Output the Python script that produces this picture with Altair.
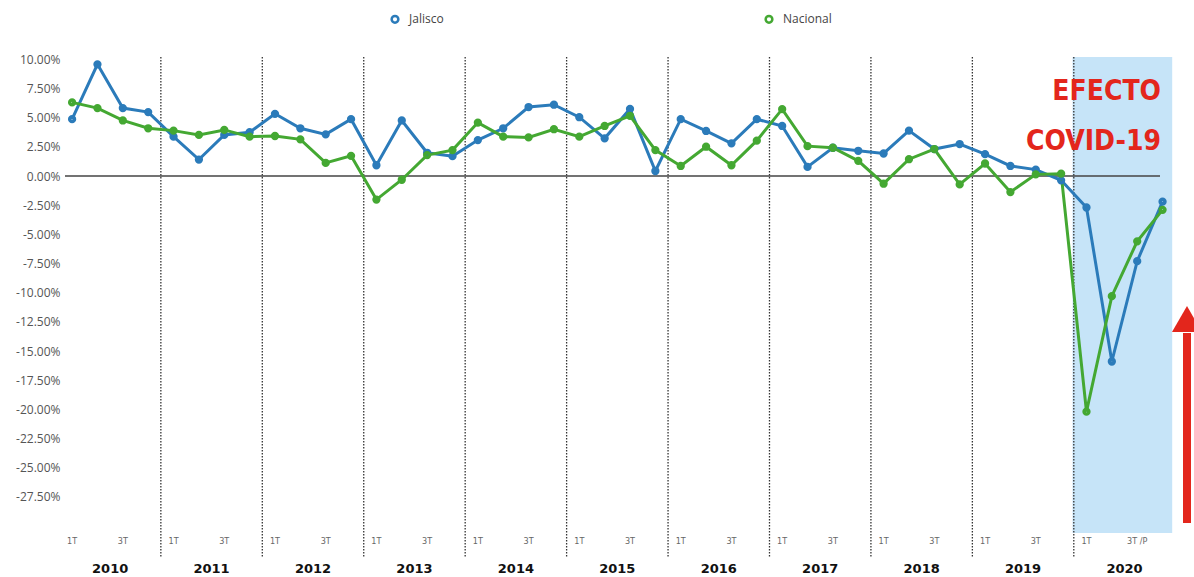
import altair as alt
import pandas as pd

# Quarterly GDP growth (% annual), 1T 2010 .. 4T 2020
years = list(range(2010, 2021))
quarter_labels = ["1T", "3T"]
series_names = ["Jalisco", "Nacional"]

jalisco = [
    4.87, 9.57, 5.82, 5.48,
    3.37, 1.41, 3.52, 3.75,
    5.33, 4.09, 3.57, 4.87,
    0.92, 4.76, 1.99, 1.70,
    3.08, 4.09, 5.91, 6.11,
    5.04, 3.23, 5.75, 0.43,
    4.87, 3.86, 2.80, 4.87,
    4.29, 0.78, 2.42, 2.16,
    1.93, 3.89, 2.31, 2.74,
    1.87, 0.86, 0.55, -0.37,
    -2.70, -15.90, -7.30, -2.20,
]
nacional = [
    6.31, 5.82, 4.76, 4.09,
    3.89, 3.52, 3.95, 3.37,
    3.43, 3.14, 1.12, 1.73,
    -2.02, -0.32, 1.79, 2.22,
    4.58, 3.37, 3.31, 4.01,
    3.37, 4.29, 5.16, 2.22,
    0.86, 2.51, 0.92, 3.03,
    5.73, 2.56, 2.42, 1.30,
    -0.66, 1.44, 2.31, -0.72,
    1.07, -1.38, 0.14, 0.20,
    -20.20, -10.30, -5.60, -2.90,
]
y_ticks = [10 - 2.5 * k for k in range(16)]

BLUE = "#2b7bba"
GREEN = "#44a832"
RED = "#e3261c"
W, H = 1111, 476

n = len(jalisco)
df = pd.DataFrame(
    [{"t": i, "serie": "Jalisco", "valor": v} for i, v in enumerate(jalisco)]
    + [{"t": i, "serie": "Nacional", "valor": v} for i, v in enumerate(nacional)]
)

x_scale = alt.Scale(domain=[-0.28, 43.53], nice=False, zero=False)
y_scale = alt.Scale(domain=[-30.6, 10.2], nice=False, zero=False)
y_axis = alt.Axis(
    values=y_ticks,
    labelExpr="replace(format(datum.value, '.2f'), '\u2212', '-') + '%'",
    domain=False,
    ticks=False,
    grid=False,
    labelOverlap=False,
    labelFontSize=12,
    labelFont="Open Sans",
    labelColor="#555",
    labelPadding=5,
)
legend = alt.Legend(
    title=None,
    orient="none",
    legendX=324,
    legendY=-44,
    direction="horizontal",
    symbolType="circle",
    symbolSize=45,
    symbolStrokeWidth=2.5,
    symbolFillColor="white",
    labelFontSize=12,
    labelFont="Open Sans",
    labelColor="#444",
    labelOffset=8,
    columnPadding=316,
    padding=0,
)
X = lambda f: alt.X(f, type="quantitative", scale=x_scale, axis=None)
Y = lambda f: alt.Y(f, type="quantitative", scale=y_scale, axis=y_axis, title=None)
C = alt.Color("serie:N", scale=alt.Scale(domain=series_names, range=[BLUE, GREEN]), legend=legend)

# light-blue band over 2020
band_df = pd.DataFrame({"a": [4 * (len(years) - 1) - 0.55], "b": [n - 0.62]})
band = alt.Chart(band_df).mark_rect(color="#c6e4f8").encode(
    x=X("a"), x2="b", y=alt.value(0), y2=alt.value(H)
)

# dotted separators between years
sep_df = pd.DataFrame({"t": [4 * k + 3.5 for k in range(len(years) - 1)]})
seps = alt.Chart(sep_df).mark_rule(
    color="#333", strokeWidth=1.3, strokeDash=[1.5, 1.5]
).encode(x=X("t"), y=alt.value(0), y2=alt.value(501))

# zero reference line
zero_df = pd.DataFrame({"a": [-0.28], "b": [n - 1.1], "valor": [0.0]})
zero = alt.Chart(zero_df).mark_rule(color="#444", strokeWidth=1.6).encode(
    x=X("a"), x2="b", y=Y("valor")
)

lines = alt.Chart(df).mark_line(strokeWidth=3).encode(
    x=X("t"), y=Y("valor"), color=C
)

dots = alt.Chart(df).mark_point(filled=False, size=22, strokeWidth=3.6, opacity=1).encode(
    x=X("t"), y=Y("valor"), color=C
)

# quarter labels under the axis
q_rows = []
for k, yr in enumerate(years):
    q_rows.append({"t": 4 * k, "txt": quarter_labels[0]})
    q_rows.append({"t": 4 * k + 2, "txt": quarter_labels[1] + (" /P" if yr == years[-1] else "")})
q_text = alt.Chart(pd.DataFrame(q_rows)).mark_text(
    fontSize=9, font="Liberation Sans Narrow, DejaVu Sans Condensed, sans-serif",
    color="#666", baseline="middle"
).encode(x=X("t"), y=alt.value(484), text="txt:N")

yr_df = pd.DataFrame({"t": [4 * k + 1.5 for k in range(len(years))], "txt": [str(y) for y in years]})
yr_text = alt.Chart(yr_df).mark_text(
    fontSize=13, font="DejaVu Sans", fontWeight="bold", color="#111", baseline="middle"
).encode(x=X("t"), y=alt.value(512), text="txt:N")

# COVID annotation
covid_font = "DejaVu Sans Condensed, Liberation Sans Narrow, sans-serif"
t1 = alt.Chart().mark_text(
    text="EFECTO", font=covid_font, fontSize=28, fontWeight="bold", color=RED,
    align="right", baseline="alphabetic"
).encode(x=alt.value(1096), y=alt.value(43))
t2 = alt.Chart().mark_text(
    text="COVID-19", font=covid_font, fontSize=28, fontWeight="bold", color=RED,
    align="right", baseline="alphabetic"
).encode(x=alt.value(1096), y=alt.value(93))

# upward red arrow on the right
shaft = alt.Chart().mark_rule(color=RED, strokeWidth=8).encode(
    x=alt.value(1122), y=alt.value(276), y2=alt.value(466)
)
head = alt.Chart().mark_point(
    shape="triangle-up", filled=True, size=900, color=RED, opacity=1
).encode(x=alt.value(1122), y=alt.value(262))

chart = alt.layer(
    band, seps, zero, lines, dots, q_text, yr_text, t1, t2, shaft, head
).properties(
    width=W,
    height=H,
    padding={"left": 65, "top": 57, "right": 18, "bottom": 44},
    autosize=alt.AutoSizeParams(type="none"),
    background="white",
).configure_view(stroke=None)

chart.save("out.html", embed_options={"renderer": "svg", "actions": False})
